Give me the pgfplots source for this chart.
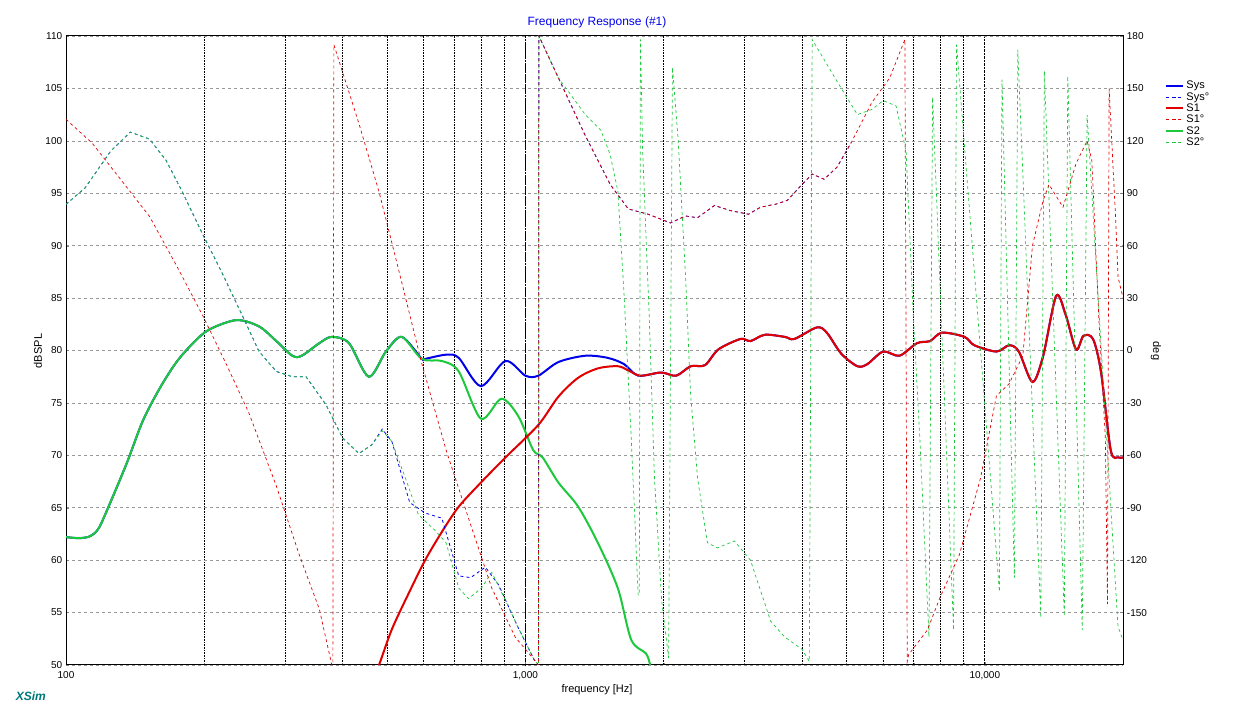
\documentclass[border=0pt]{standalone}
\usepackage{pgfplots}
\pgfplotsset{compat=1.18}
\usepackage{fontspec}
\setmainfont{Liberation Sans}
\definecolor{cb}{RGB}{0,0,235}
\definecolor{cr}{RGB}{225,0,0}
\definecolor{cg}{RGB}{30,200,60}
\definecolor{cxs}{RGB}{0,120,120}
\pgfplotsset{every axis/.append style={at={(0,0)},anchor=south west,scale only axis,width=1057pt,height=629pt,
 xmin=100,xmax=20000,
 tick label style={font=\fontsize{10}{12}\selectfont},
 /pgf/number format/assume math mode=true,
 major tick length=3pt,minor tick length=2pt}}
\begin{document}
\fontsize{11}{13}\selectfont
\begin{tikzpicture}[x=1pt,y=1pt]
\useasboundingbox (-66,-55) rectangle (1177,665);
\begin{semilogxaxis}[ymin=50,ymax=110,ytick={50,55,...,110},
 xtick={100,1000,10000},xticklabels={100,{1,000},{10,000}},
 xticklabel style={yshift=-3pt},
 grid=both, x grid style={black,densely dotted,line width=0.6pt},
 y grid style={gray!80,dashed,line width=0.6pt},
 minor x grid style={black,densely dotted,line width=0.6pt},
 axis line style={black,line width=1pt},
 ytick pos=left, xtick pos=bottom,
 legend style={at={(1.037,0.935)},anchor=north west,draw=none,fill=none,font=\fontsize{11}{12}\selectfont,row sep=-2pt},
 legend cell align=left,
 clip=true]
\addlegendimage{cb,line width=2pt}\addlegendentry{Sys}
\addlegendimage{cb,dashed,line width=1pt}\addlegendentry{Sys°}
\addlegendimage{cr,line width=2pt}\addlegendentry{S1}
\addlegendimage{cr,dashed,line width=0.7pt}\addlegendentry{S1°}
\addlegendimage{cg,line width=2pt}\addlegendentry{S2}
\addlegendimage{cg,dashed,line width=0.7pt}\addlegendentry{S2°}
% Sys
\addplot[cb,line width=2pt,smooth,forget plot] coordinates {
(100,62.2)(107,62.1)(113,62.3)(118,63.1)(126,65.9)(136,69.4)(147,73.3)(160,76.4)(174,78.9)(189,80.7)(205,82.0)(235,82.9)(263,82.3)(287,80.9)(311,79.5)(326,79.5)(356,80.7)(379,81.3)(413,80.7)(456,77.5)(497,79.9)(538,81.3)(595,79.2)(605,79.2)(672,79.6)(716,79.3)(800,76.6)(905,79.0)(1000,77.6)(1067,77.6)(1180,78.9)(1350,79.5)(1510,79.3)(1640,78.7)(1760,77.6)(1975,77.9)(2130,77.6)(2290,78.5)(2460,78.6)(2630,80.1)(2940,81.1)(3090,80.9)(3320,81.5)(3670,81.3)(3850,81.1)(4310,82.2)(4530,81.7)(4870,79.7)(5280,78.5)(5550,78.7)(6010,79.9)(6520,79.5)(7120,80.7)(7600,80.9)(8070,81.7)(9030,81.3)(9490,80.5)(10600,79.9)(11300,80.5)(11860,79.9)(12700,77.0)(13400,79.5)(14300,85.2)(15000,83.4)(15800,80.1)(16400,81.4)(17200,81.1)(17900,78.0)(18800,70.5)(19500,69.8)(20000,69.8)};
% S2
\addplot[cg,line width=2pt,smooth,forget plot] coordinates {
(100,62.2)(107,62.1)(113,62.3)(118,63.1)(126,65.9)(136,69.4)(147,73.3)(160,76.4)(174,78.9)(189,80.7)(205,82.0)(235,82.9)(263,82.3)(287,80.9)(311,79.5)(326,79.5)(356,80.7)(379,81.3)(413,80.7)(456,77.5)(497,79.9)(538,81.3)(595,79.2)(658,79.0)(716,78.0)(800,73.5)(887,75.4)(966,73.7)(1040,70.5)(1090,69.8)(1180,67.4)(1303,65.1)(1440,61.6)(1590,57.3)(1700,52.4)(1830,51.1)(1870,50)(1900,49)};
% S1
\addplot[cr,line width=2pt,smooth,forget plot] coordinates {
(470,49.5)(480,50)(512,53.4)(558,56.9)(605,60.0)(658,62.7)(716,65.1)(800,67.4)(905,69.8)(1067,72.9)(1180,75.6)(1303,77.4)(1440,78.3)(1590,78.5)(1675,78.1)(1780,77.6)(1975,77.9)(2130,77.6)(2290,78.5)(2460,78.6)(2630,80.1)(2940,81.1)(3090,80.9)(3320,81.5)(3670,81.3)(3850,81.1)(4310,82.2)(4530,81.7)(4870,79.7)(5280,78.5)(5550,78.7)(6010,79.9)(6520,79.5)(7120,80.7)(7600,80.9)(8070,81.7)(9030,81.3)(9490,80.5)(10600,79.9)(11300,80.5)(11860,79.9)(12700,77.0)(13400,79.5)(14300,85.2)(15000,83.4)(15800,80.1)(16400,81.4)(17200,81.1)(17900,78.0)(18800,70.5)(19500,69.8)(20000,69.8)};
\end{semilogxaxis}
\begin{semilogxaxis}[ymin=-180,ymax=180,ytick={-150,-120,...,180},
 axis y line*=right, axis x line=none,
 clip=true]
% Sys phase
\addplot[cb,dashed,line width=0.8pt] coordinates {
(100,83.7)(110,93)(125,114)(138,125)(152,121)(165,109)(179,91)(198,67)(219,44)(242,20)(263,-0.5)(287,-12)(311,-15)(333,-15)(368,-31)(400,-50)(434,-59)(463,-54)(488,-45)(512,-52)(560,-87)(605,-93)(658,-96)(716,-129)(760,-130)(818,-124)(874,-134)(966,-159)(1045,-177)(1068,-180)(1070,180)(1180,156)(1350,123)(1530,95)(1675,81)(1850,78)(2070,73)(2230,77)(2370,76)(2580,83)(2800,80)(3060,78)(3250,82)(3540,84)(3720,86)(4000,95)(4210,101)(4470,98)(4770,105)(5120,119)};
% S2 phase
\addplot[cg,dashed,line width=0.7pt] coordinates {
(100,83.7)(110,93)(125,114)(138,125)(152,121)(165,109)(179,91)(198,67)(219,44)(242,20)(263,-0.5)(287,-12)(311,-15)(333,-15)(368,-31)(400,-50)(434,-59)(463,-54)(488,-46)(512,-52)(548,-73)(585,-94)(636,-103)(672,-110)(716,-136)(752,-142)(802,-136)(845,-127)(905,-143)(966,-159)(1045,-177)(1068,-180)(1070,180)(1180,156)(1350,135)(1460,126)(1530,112)(1590,91)(1640,32)(1700,-50)(1760,-140)(1770,-140)(1780,178)(1800,114)(1860,20)(1910,-73)(1980,-143)(2050,-176)(2090,162)(2150,121)(2230,44)(2290,-26)(2370,-73)(2490,-110)(2620,-113)(2850,-109)(3090,-120)(3420,-155)(3670,-164)(4000,-171)(4150,-178)(4210,178)(4770,154)(5280,135)(5680,138)(6010,143)(6410,140)(6740,114)(6990,20)(7220,-50)(7560,-164)(7700,145)(8550,-160)(8680,175)(10760,-138)(10900,155)(11600,-130)(11800,172)(13240,-153)(13480,160)(14900,-152)(15160,157)(16300,-160)(16700,135)(19500,-158)(20000,-166)};
% S1 phase
\addplot[cr,dashed,line width=0.7pt] coordinates {
(100,132.3)(114,118.7)(136,93)(152,76.7)(174,48.6)(198,20.5)(223,-7.5)(250,-35.6)(287,-77.6)(322,-117)(356,-148)(379,-180)(381,-180)(383,175)(434,130)(480,91)(530,46)(595,-7.5)(672,-57)(752,-96)(845,-136)(950,-164)(1045,-177)(1068,-180)(1070,180)(1180,156)(1350,123)(1530,95)(1675,81)(1850,78)(2070,73)(2230,77)(2370,76)(2580,83)(2800,80)(3060,78)(3250,82)(3540,84)(3720,86)(4000,95)(4210,101)(4470,98)(4770,105)(5120,119)(5680,142)(6210,156)(6700,178)(6780,-178)(6830,-174)(7500,-160)(8000,-141)(8800,-117)(9790,-73)(10600,-26)(11300,-19)(12100,-3)(12700,60)(13400,86)(13800,95)(14800,82)(15800,107)(16700,120)(17100,109)(17700,20)(18300,-50)(18500,-145)(18650,150)(19300,72)(19500,42)(20000,30)};
\end{semilogxaxis}
\node[text=cb,font=\fontsize{12}{14}\selectfont] at (531,643) {Frequency Response (\#1)};
\node at (531,-25) {frequency [Hz]};
\node[rotate=90] at (-28,314) {dBSPL};
\node[rotate=-90] at (1090,314) {deg};
\node[text=cxs,font=\bfseries\itshape\fontsize{12}{14}\selectfont,anchor=west] at (-54,-31) {XSim};
\end{tikzpicture}
\end{document}
